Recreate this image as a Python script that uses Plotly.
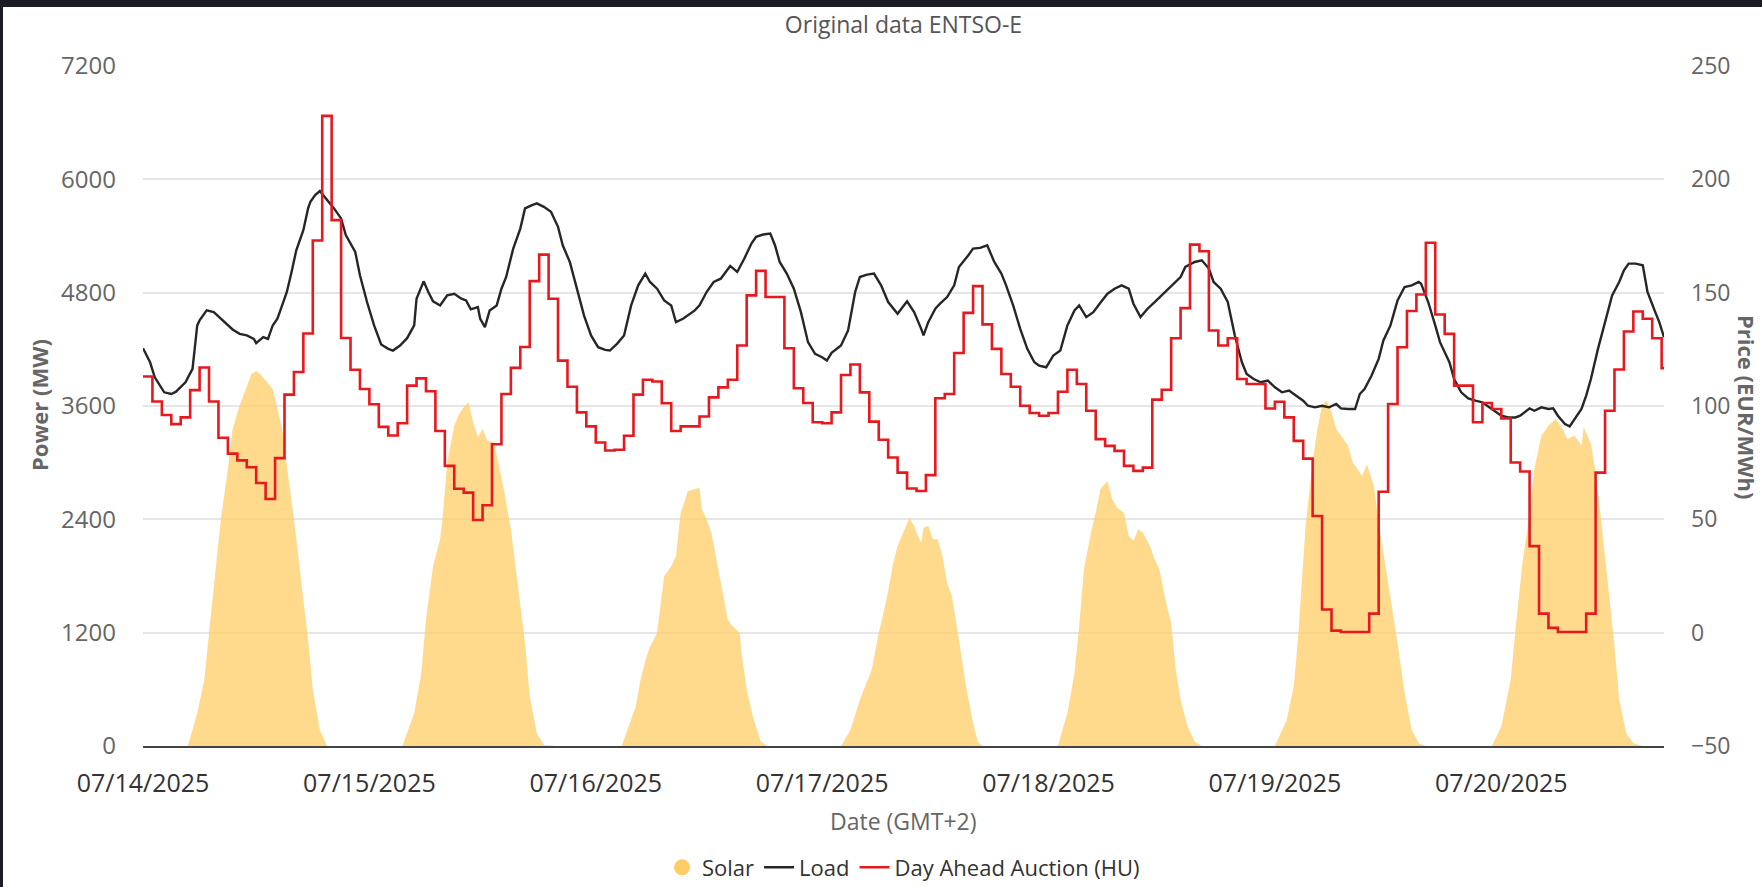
import pandas as pd
import plotly.graph_objects as go

START = pd.Timestamp("2025-07-14 00:00")
END_HOUR = 161.25  # last data timestamp (07/20 17:15)

# Day-ahead price (EUR/MWh), hourly from 07/14/2025 00:00
price_eur = [
    113, 102, 96, 92, 95, 107, 117, 102, 86, 79, 76, 73, 66, 59, 77, 105, 115, 132, 173, 228, 182, 130, 116, 107.5,
    100.8, 90.8, 87, 92.4, 109, 112.2, 106.5, 89, 73.6, 63.5, 61.8, 49.7, 56.2, 83.1, 105.3, 116.8, 126, 155.1, 166.8, 147.3, 120, 108.5, 97.2, 91,
    83.9, 80.4, 80.7, 86.9, 105, 111.6, 110.8, 101.2, 89, 91, 91, 95.4, 103.8, 108.2, 111.6, 126.7, 148.8, 159.6, 148.1, 148.1, 125.5, 107.8, 101.3, 92.8,
    92.4, 97.2, 113.7, 118.3, 106, 93.1, 85.1, 77.3, 70.6, 63.6, 62.5, 69.5, 103.4, 105.3, 123.4, 141.1, 152.9, 136, 125.2, 114.1, 108.5, 100.1, 96.9, 95.7,
    96.9, 106.3, 116, 109.7, 97.9, 85.4, 82.4, 80.2, 73.6, 71.4, 72.8, 102.8, 107.2, 129.9, 143.2, 171.2, 168.3, 133.3, 126.7, 129.9, 111.9, 109.7, 109.7, 98.9,
    101.9, 95, 84.6, 76.8, 51.5, 10.2, 0.9, 0.3, 0.3, 0.3, 8.4, 62.2, 100.9, 125.9, 141.9, 149.2, 172, 140.4, 131.8, 109, 109, 92.8, 101.3, 98.7,
    94.5, 75.1, 71.1, 38.2, 8.4, 2.1, 0.3, 0.3, 0.3, 8.4, 70.6, 97.9, 116.1, 132.9, 141.7, 138.5, 129.9, 116.7,
]

# Load (MW): hours after 07/14 00:00 and values
load_hours = [
    0, 0.75, 1.25, 2.25, 3, 3.5, 4.5, 5.25, 5.75, 6, 6.75, 7.5, 8.25, 9, 9.5, 10.25, 11, 11.75, 12, 12.75, 13.25, 13.75,
    14.25, 14.75, 15.25, 15.75, 16.25, 17, 17.5, 17.75, 18.25, 18.75, 19.25, 20.25, 21, 21.5, 22.5, 23, 23.75, 24.5,
    25.25, 26, 26.5, 27.25, 28, 28.75, 29, 29.75, 30.25, 30.75, 31.5, 32.25, 33, 33.75, 34.25, 34.75, 35.5, 35.75,
    36.25, 36.75, 37.5, 38, 38.5, 39.25, 40, 40.5, 41.25, 41.75, 42.5, 43.25, 44, 44.5, 45.25, 46, 46.75, 47.5, 48.25,
    49, 49.5, 50.25, 51, 51.75, 52.5, 53.25, 53.75, 54.5, 55.25, 56, 56.5, 57.25, 58, 58.5, 59, 59.75, 60.5, 61.25,
    62.25, 63, 63.75, 64.5, 65, 65.75, 66.5, 67, 67.5, 68.25, 69, 69.75, 70.5, 71.25, 72, 72.5, 73, 74, 74.75, 75.5,
    76, 76.75, 77.5, 78.25, 79, 80, 81, 81.75, 82.5, 82.75, 83.25, 84, 84.5, 85.25, 86, 86.5, 87.5, 88, 88.75, 89.5,
    90.25, 91, 91.5, 92.25, 93, 93.75, 94.5, 95, 95.75, 96.5, 97.25, 98, 98.75, 99.25, 100, 100.75, 101.5, 102.25,
    103, 103.75, 104.5, 105, 105.75, 106.5, 107.25, 108, 108.5, 109.25, 110, 110.5, 111.5, 112.25, 113, 113.5, 114.25,
    115, 115.75, 116.5, 117, 117.75, 118.5, 119.25, 120, 120.75, 121.5, 122, 123, 123.5, 124.25, 125, 125.75, 126.5,
    127, 127.75, 128.5, 129, 129.5, 130.25, 131, 131.5, 132.25, 133, 133.75, 134.5, 135.25, 135.5, 136.25, 137, 137.5,
    138.5, 139, 139.75, 140.5, 141.25, 142, 142.5, 143.25, 144, 144.75, 145.5, 146, 147, 147.5, 148.25, 149, 149.5,
    150, 150.75, 151.25, 151.75, 152.5, 153, 153.5, 154.25, 155, 155.75, 156.5, 157, 157.5, 158.25, 159, 159.5,
    160.25, 160.75, 161.25,
]
load_mw = [
    4212, 4063, 3904, 3745, 3727, 3752, 3851, 3993, 4453, 4506, 4612, 4594, 4524, 4453, 4410, 4364, 4347, 4311, 4265, 4329, 4311, 4453,
    4524, 4665, 4807, 5019, 5249, 5462, 5692, 5763, 5833, 5876, 5816, 5692, 5586, 5409, 5232, 4984, 4701, 4453,
    4251, 4205, 4187, 4240, 4318, 4453, 4736, 4920, 4807, 4708, 4665, 4771, 4789, 4736, 4718, 4623, 4648, 4524,
    4435, 4612, 4665, 4842, 4966, 5267, 5479, 5692, 5727, 5745, 5709, 5656, 5497, 5302, 5125, 4842, 4559, 4347, 4223,
    4194, 4187, 4258, 4347, 4665, 4878, 5002, 4913, 4842, 4718, 4665, 4488, 4524, 4577, 4612, 4665, 4807, 4913, 4948,
    5083, 5019, 5161, 5320, 5391, 5416, 5426, 5302, 5125, 5002, 4842, 4594, 4276, 4152, 4117, 4081, 4163, 4240, 4400, 4807,
    4966, 4991, 5002, 4878, 4701, 4577, 4708, 4594, 4417, 4347, 4488, 4630, 4683, 4754, 4878, 5072, 5196, 5267, 5274, 5302,
    5125, 5002, 4878, 4665, 4417, 4205, 4063, 4028, 4010, 4134, 4187, 4453, 4612, 4665, 4541, 4594, 4694, 4789,
    4842, 4878, 4842, 4683, 4541, 4630, 4701, 4771, 4824, 4895, 4966, 5072, 5125, 5143, 5055, 4913, 4842,
    4701, 4347, 4063, 3939, 3886, 3851, 3869, 3798, 3745, 3763, 3727, 3656, 3603, 3586, 3603, 3586, 3621,
    3575, 3568, 3568, 3727, 3780, 3922, 4099, 4294, 4453, 4718, 4860, 4878, 4913, 4895, 4701, 4453, 4276,
    4063, 3886, 3745, 3681, 3656, 3639, 3603, 3550, 3497, 3479, 3479, 3497, 3575, 3550, 3586, 3568, 3575,
    3497, 3409, 3384, 3462, 3568, 3710, 3886, 4205, 4488, 4771, 4913, 5037, 5108, 5108, 5090, 4807,
    4612, 4488, 4329,
]

# Solar (MW): hours after 07/14 00:00 and values
solar_hours = [
    0, 4.75, 5.75, 6.5, 7, 7.75, 8.25, 9, 9.5, 10.25, 11, 11.5, 12, 12.5, 13, 13.75, 14.25, 14.75, 15.25, 16, 16.75, 17.5, 18, 18.75, 19.5,
    27.5, 28.75, 29.5, 30, 30.75, 31.5, 31.75, 32.25, 33, 33.5, 34, 34.5, 35, 35.5, 36, 36.5, 37.25, 37.5, 38.25, 39, 39.75, 40.5, 41, 41.75, 42.5, 43.75,
    50.75, 51.5, 52.25, 52.75, 53.25, 53.75, 54.5, 55.25, 56, 56.5, 57, 57.5, 57.75, 58.5, 59, 59.25, 59.75, 60.25, 61, 61.5, 62, 62.5, 63.25, 63.5, 64, 64.75, 65.5, 66.25,
    74, 75, 76, 77.25, 78, 78.5, 79, 79.5, 80, 80.75, 81.25, 81.75, 82, 82.5, 82.75, 83.25, 83.75, 84.25, 84.75, 85.25, 85.75, 86.5, 87.25, 88, 88.5, 89,
    97, 98, 98.75, 99.25, 99.75, 100.5, 101, 101.5, 102.25, 102.75, 103.25, 104, 104.5, 105, 105.5, 106, 106.75, 107.25, 107.75, 108.5, 109, 109.5, 110, 110.75, 111.5, 112.25,
    120, 121.25, 122, 122.5, 123.25, 124, 124.5, 125, 125.5, 126, 126.5, 127.25, 127.75, 128.25, 128.75, 129.25, 129.75, 130.5, 131, 131.5, 132.25, 133, 133.75, 134.5, 135.25, 136,
    143, 144, 145, 145.5, 146.25, 147, 147.5, 148.25, 149, 149.75, 150.5, 151, 151.75, 152.5, 152.75, 153.5, 154, 154.5, 155.25, 156, 156.5, 157.25, 158, 159, 161.25,
]
solar_mw = [
    0, 0, 347, 701, 1197, 1940, 2400, 2931, 3356, 3604, 3816, 3940, 3970, 3930, 3870, 3781, 3568, 3356, 2967, 2400, 1763, 1126, 595, 170, 0,
    0, 347, 772, 1338, 1904, 2188, 2400, 3002, 3391, 3515, 3586, 3639, 3427, 3268, 3356, 3232, 3214, 3073, 2719, 2294, 1692, 1090, 524, 135, 10, 0,
    0, 200, 420, 701, 900, 1050, 1197, 1798, 1904, 2011, 2471, 2613, 2701, 2719, 2737, 2506, 2400, 2259, 1869, 1621, 1338, 1267, 1197, 949, 595, 276, 46, 0,
    0, 170, 489, 807, 1197, 1409, 1639, 1922, 2117, 2294, 2418, 2329, 2259, 2152, 2312, 2329, 2188, 2188, 2011, 1727, 1586, 1126, 630, 241, 46, 0,
    0, 347, 772, 1267, 1869, 2259, 2471, 2719, 2807, 2613, 2524, 2471, 2223, 2170, 2294, 2259, 2117, 1975, 1869, 1500, 1300, 800, 489, 205, 46, 0,
    0, 276, 630, 1197, 2329, 3002, 3356, 3604, 3657, 3533, 3356, 3250, 3179, 3002, 2931, 2860, 2984, 2754, 2365, 2046, 1586, 1090, 559, 170, 28, 0,
    0, 205, 701, 1232, 1940, 2471, 2931, 3285, 3391, 3462, 3356, 3250, 3285, 3179, 3374, 3197, 2896, 2471, 1763, 1055, 489, 135, 28, 0, 0,
]

day_ticks = ["2025-07-14", "2025-07-15", "2025-07-16", "2025-07-17", "2025-07-18", "2025-07-19", "2025-07-20"]


def to_time(hours):
    return [START + pd.Timedelta(hours=h) for h in hours]


price_x = to_time(list(range(len(price_eur))) + [END_HOUR])
price_y = price_eur + [price_eur[-1]]

FONT = "Open Sans, Liberation Sans, sans-serif"
SOLAR = "#FFCC66"

fig = go.Figure()
fig.add_trace(go.Scatter(
    x=to_time(solar_hours), y=solar_mw, mode="lines", fill="tozeroy",
    line=dict(width=0, color=SOLAR), fillcolor="rgba(255,204,102,0.75)",
    showlegend=False, hoverinfo="skip",
))
fig.add_trace(go.Scatter(
    x=[None], y=[None], mode="markers", name="Solar",
    marker=dict(symbol="circle", size=17, color=SOLAR),
))
fig.add_trace(go.Scatter(
    x=to_time(load_hours), y=load_mw, mode="lines", name="Load",
    line=dict(color="#262626", width=2.4),
))
fig.add_trace(go.Scatter(
    x=price_x, y=price_y, mode="lines", name="Day Ahead Auction (HU)",
    line=dict(color="#E5191E", width=2.6, shape="hv"), yaxis="y2",
))

fig.update_layout(
    width=1762, height=887,
    margin=dict(l=143, r=98, t=66, b=141, autoexpand=False),
    paper_bgcolor="white", plot_bgcolor="white",
    font=dict(family=FONT, color="#333"),
    title=dict(text="Original data ENTSO-E", x=0.5, xref="paper", xanchor="center",
               y=1 - 24.7 / 887, yref="container", yanchor="middle",
               font=dict(size=23, color="#555", family=FONT)),
    xaxis=dict(
        type="date",
        range=[START, START + pd.Timedelta(hours=END_HOUR)],
        tickvals=day_ticks, tickformat="%m/%d/%Y",
        showgrid=False, zeroline=False,
        showline=True, linecolor="#444", linewidth=2,
        ticks="", ticklabelstandoff=14,
        tickfont=dict(size=25, color="#333", family=FONT),
    ),
    yaxis=dict(
        range=[0, 7200], dtick=1200, tick0=0,
        showgrid=True, gridcolor="#e6e6e6", gridwidth=1.5,
        zeroline=False, showline=False, ticks="",
        ticklabelstandoff=26,
        tickfont=dict(size=24, color="#666", family=FONT),
    ),
    yaxis2=dict(
        range=[-50, 250], dtick=50, tick0=0,
        overlaying="y", side="right",
        showgrid=False, zeroline=False, showline=False, ticks="",
        ticklabelstandoff=26,
        tickfont=dict(size=23, color="#666", family=FONT),
    ),
    legend=dict(
        orientation="h", x=0.5, xanchor="center", y=(746 - 867.5) / 680, yanchor="middle",
        font=dict(size=22, color="#333", family=FONT), bgcolor="rgba(0,0,0,0)",
        traceorder="normal",
    ),
    annotations=[
        dict(text="Date (GMT+2)", x=0.5, y=(746 - 821) / 680, xref="paper", yref="paper",
             showarrow=False, xanchor="center", yanchor="middle",
             font=dict(size=23, color="#666", family=FONT)),
        dict(text="<b>Power (MW)</b>", x=(39 - 143) / 1521, y=(746 - 405) / 680, xref="paper", yref="paper",
             showarrow=False, textangle=-90, xanchor="center", yanchor="middle",
             font=dict(size=22, color="#666", family=FONT)),
        dict(text="<b>Price (EUR/MWh)</b>", x=(1747 - 143) / 1521, y=(746 - 408) / 680, xref="paper", yref="paper",
             showarrow=False, textangle=90, xanchor="center", yanchor="middle",
             font=dict(size=22, color="#666", family=FONT)),
    ],
    shapes=[
        dict(type="rect", xref="paper", yref="paper", x0=-0.2, x1=1.2,
             y0=(746 - 7) / 680, y1=1.2, fillcolor="#1c1c24", line=dict(width=0), layer="above"),
        dict(type="rect", xref="paper", yref="paper", x0=-0.2, x1=(3 - 143) / 1521,
             y0=-0.4, y1=1.2, fillcolor="#1c1c24", line=dict(width=0), layer="above"),
    ],
)

fig.write_html(
    "out.html",
    config={"displayModeBar": False},
    post_script="document.body.style.margin='0px';document.body.style.overflow='hidden';",
)
